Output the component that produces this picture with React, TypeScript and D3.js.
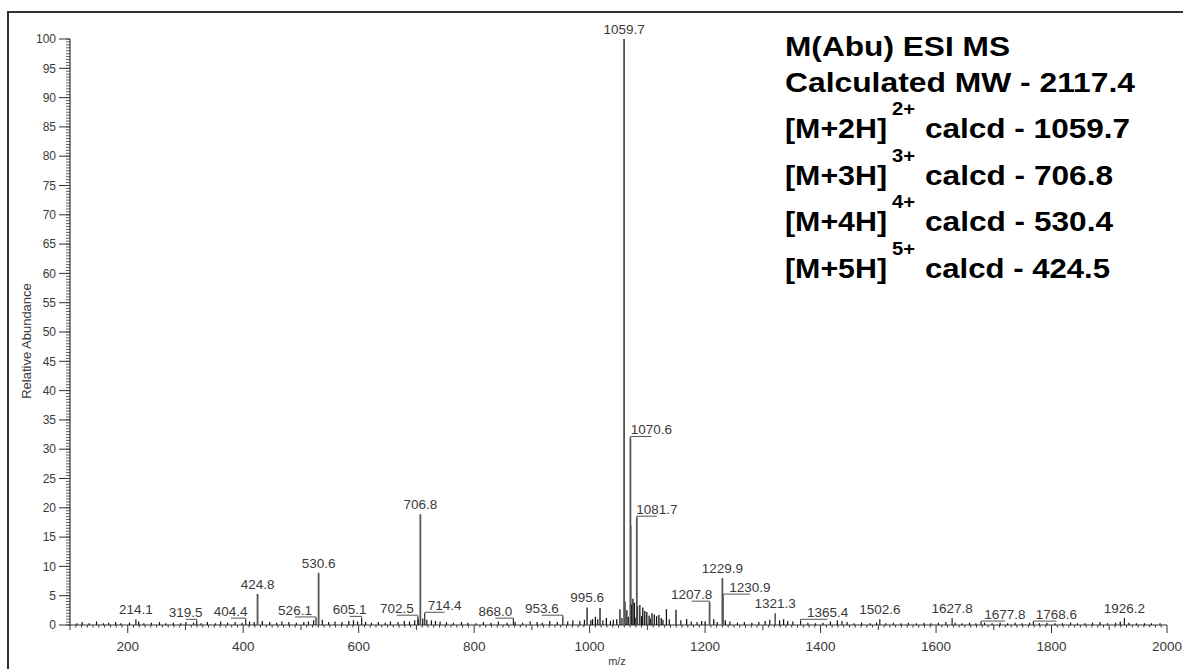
import React from "react";
import * as d3 from "d3";

// Labelled centroid peaks: m/z and relative abundance (%)
const labeledMz = [
  214.1, 319.5, 404.4, 424.8, 526.1, 530.6, 605.1, 702.5, 706.8, 714.4, 868.0,
  953.6, 995.6, 1059.7, 1070.6, 1081.7, 1207.8, 1229.9, 1230.9, 1321.3, 1365.4,
  1502.6, 1627.8, 1677.8, 1768.6, 1926.2,
];
const labeledAbundance = [
  1.0, 0.8, 1.0, 5.3, 1.2, 8.9, 1.3, 1.5, 18.9, 2.0, 1.0,
  1.5, 3.0, 100, 32.0, 18.4, 3.9, 8.0, 5.1, 2.0, 0.8,
  1.0, 1.2, 0.5, 0.5, 1.2,
];
// Horizontal shift of each label from its peak (0 = centred, no leader)
const labelShift = [
  0, -11, -15, 0, -21, 0, -12, -21, 0, 20, -18,
  -21, 0, 0, 21, 20, -18, 0, 27, 0, 27,
  0, 0, 24, 23, 0,
];

// Unlabelled peaks near the base peak cluster
const clusterPeaks: [number, number][] = [
  [1005, 1.0], [1010, 1.4], [1018, 2.9], [1029, 1.2], [1047, 1.0], [1052.5, 2.7],
  [1061.2, 4.0], [1064.5, 2.5], [1071.1, 17.0], [1072.5, 3.5], [1075.0, 4.5],
  [1077.5, 3.8], [1083.0, 3.2], [1087.0, 3.4], [1092.0, 3.0], [1095.5, 2.4],
  [1099.0, 2.2], [1103.0, 1.6], [1108.0, 2.0], [1112.0, 1.8], [1116.0, 1.5],
  [1120.0, 1.7], [1124.0, 1.2], [1133.0, 2.7], [1149.6, 2.6], [1168.0, 1.0],
  [1200.0, 0.6], [1215.0, 1.0], [1235.0, 0.8],
];

// Low-level baseline signal
const baselinePeaks: [number, number][] = [
  [112, 0.3], [121, 0.5], [133, 0.3], [146, 0.6], [158, 0.3], [167, 0.4], [179, 0.5],
  [188, 0.3], [203, 0.4], [219, 0.6], [228, 0.3], [241, 0.4], [255, 0.5], [266, 0.3],
  [279, 0.4], [292, 0.3], [301, 0.5], [314, 0.4], [327, 0.3], [338, 0.5], [352, 0.3],
  [361, 0.6], [373, 0.4], [386, 0.5], [398, 0.4], [411, 0.6], [419, 0.5], [433, 0.7],
  [446, 0.5], [458, 0.4], [467, 0.6], [479, 0.5], [492, 0.4], [505, 0.5], [513, 0.6],
  [522, 0.8], [537, 0.9], [548, 0.5], [559, 0.6], [571, 0.5], [583, 0.7], [591, 0.8],
  [598, 0.6], [612, 0.5], [622, 0.4], [634, 0.5], [646, 0.4], [655, 0.6], [668, 0.5],
  [679, 0.7], [688, 0.6], [697, 0.8], [703, 1.0], [711, 1.1], [718, 0.9], [726, 0.8],
  [733, 0.7], [741, 0.6], [752, 0.5], [764, 0.4], [778, 0.5], [789, 0.4], [803, 0.3],
  [816, 0.5], [829, 0.4], [842, 0.6], [857, 0.4], [871, 0.5], [884, 0.4], [897, 0.6],
  [909, 0.5], [918, 0.4], [931, 0.7], [944, 0.5], [962, 0.6], [971, 0.8], [983, 0.7],
  [991, 0.9], [1002, 0.8], [1014, 1.0], [1023, 0.8], [1036, 0.7], [1041, 0.9],
  [1056, 1.2], [1067, 1.4], [1080, 1.3], [1090, 1.5], [1105, 1.1], [1127, 0.9],
  [1138, 1.0], [1158, 0.8], [1176, 0.6], [1186, 0.5], [1194, 0.7], [1221, 0.5],
  [1243, 0.6], [1256, 0.4], [1268, 0.5], [1281, 0.4], [1293, 0.5], [1304, 0.7],
  [1312, 0.9], [1329, 0.8], [1336, 1.0], [1343, 0.7], [1352, 0.6], [1378, 0.4],
  [1391, 0.3], [1404, 0.4], [1417, 0.6], [1429, 0.8], [1437, 0.7], [1446, 0.5],
  [1458, 0.3], [1471, 0.4], [1486, 0.3], [1497, 0.4], [1513, 0.3], [1526, 0.4],
  [1539, 0.3], [1552, 0.4], [1566, 0.3], [1579, 0.4], [1591, 0.3], [1604, 0.4],
  [1617, 0.5], [1633, 0.4], [1645, 0.3], [1658, 0.4], [1669, 0.3], [1684, 0.4],
  [1697, 0.3], [1711, 0.4], [1724, 0.3], [1737, 0.4], [1749, 0.3], [1762, 0.4],
  [1779, 0.3], [1792, 0.4], [1806, 0.3], [1819, 0.3], [1833, 0.4], [1845, 0.3],
  [1858, 0.3], [1871, 0.4], [1884, 0.5], [1897, 0.3], [1911, 0.4], [1919, 0.6],
  [1934, 0.4], [1947, 0.3], [1961, 0.3], [1973, 0.3], [1988, 0.3],
];

const xTickValues = [200, 400, 600, 800, 1000, 1200, 1400, 1600, 1800, 2000];
const yTickValues = [0, 5, 10, 15, 20, 25, 30, 35, 40, 45, 50, 55, 60, 65, 70, 75, 80, 85, 90, 95, 100];

const titleLines = ["M(Abu) ESI MS", "Calculated MW - 2117.4"];
const ionCharges = ["2+", "3+", "4+", "5+"];
const ionFormulas = ["[M+2H]", "[M+3H]", "[M+4H]", "[M+5H]"];
const ionCalcd = ["calcd - 1059.7", "calcd - 706.8", "calcd - 530.4", "calcd - 424.5"];

const W = 1183;
const H = 669;
const FONT = "'Liberation Sans', Arial, sans-serif";
const AXIS = "#333";
const LABEL = "#3a3a3a";

export default function App() {
  const x = d3.scaleLinear().domain([100, 2000]).range([70, 1167]);
  const y = d3.scaleLinear().domain([0, 100]).range([625, 39]);
  const fmt = d3.format(".1f");

  const minorX = d3.range(100, 2001, 10);
  const minorY = d3.range(0, 100.01, 0.5);

  const titleLengths = [225, 350];
  const calcdLengths = [205, 188, 188, 185];

  return (
    <svg
      width={W}
      height={H}
      style={{ position: "absolute", left: 0, top: 0, display: "block", background: "#fff" }}
      fontFamily={FONT}
    >
      {/* frame */}
      <rect x={8} y={12} width={1200} height={700} fill="none" stroke="#333" strokeWidth={2} />

      {/* y axis */}
      <line x1={x(100)} x2={x(100)} y1={y(0)} y2={y(100)} stroke={AXIS} strokeWidth={1.2} />
      {minorY.map((v) => (
        <line key={"my" + v} x1={x(100) - 4} x2={x(100)} y1={y(v)} y2={y(v)} stroke={AXIS} strokeWidth={0.8} />
      ))}
      {yTickValues.map((v) => (
        <g key={"yt" + v}>
          <line x1={x(100) - 11} x2={x(100)} y1={y(v)} y2={y(v)} stroke={AXIS} strokeWidth={1} />
          <text x={56} y={y(v)} dy="0.35em" textAnchor="end" fontSize={12} fill={LABEL}>
            {v}
          </text>
        </g>
      ))}
      <text
        transform={`translate(31,${y(50) + 9}) rotate(-90)`}
        textAnchor="middle"
        fontSize={13}
        fill={LABEL}
      >
        Relative Abundance
      </text>

      {/* x axis */}
      <line x1={x(100)} x2={x(2000)} y1={y(0)} y2={y(0)} stroke={AXIS} strokeWidth={1.2} />
      {minorX.map((v) => {
        const len = v % 200 === 0 ? 8 : v % 100 === 0 ? 5 : 2.5;
        return (
          <line key={"mx" + v} x1={x(v)} x2={x(v)} y1={y(0)} y2={y(0) + len} stroke={AXIS} strokeWidth={1} />
        );
      })}
      {xTickValues.map((v) => (
        <text key={"xt" + v} x={x(v)} y={651} textAnchor="middle" fontSize={13.5} fill={LABEL}>
          {v}
        </text>
      ))}
      <text x={617} y={665} textAnchor="middle" fontSize={11} fill={LABEL}>
        m/z
      </text>

      {/* baseline signal */}
      {baselinePeaks.map(([m, a]) => (
        <line key={"b" + m} x1={x(m)} x2={x(m)} y1={y(0)} y2={y(a)} stroke="#111" strokeWidth={1.2} />
      ))}
      {clusterPeaks.map(([m, a]) => (
        <line key={"c" + m} x1={x(m)} x2={x(m)} y1={y(0)} y2={y(a)} stroke="#111" strokeWidth={1.3} />
      ))}

      {/* labelled peaks */}
      {labeledMz.map((m, i) => {
        const px = x(m);
        const py = y(labeledAbundance[i]);
        const shift = labelShift[i];
        const lx = px + shift;
        const big = labeledAbundance[i] > 2.5;
        return (
          <g key={"p" + m}>
            <line
              x1={px}
              x2={px}
              y1={y(0)}
              y2={py}
              stroke={big ? "#555" : "#222"}
              strokeWidth={big ? 1.8 : 1.2}
            />
            {shift !== 0 && (
              <polyline
                points={`${px},${py} ${px},${py - 1} ${lx},${py - 1}`}
                fill="none"
                stroke="#555"
                strokeWidth={1}
              />
            )}
            <text x={lx} y={py - (shift !== 0 ? 3 : 5)} textAnchor="middle" fontSize={13.5} fill={LABEL}>
              {fmt(m)}
            </text>
          </g>
        );
      })}

      {/* annotation block */}
      <g fontWeight="bold" fill="#000" fontSize={28}>
        {titleLines.map((t, i) => (
          <text key={t} x={785} y={56 + i * 36} textLength={titleLengths[i]} lengthAdjust="spacingAndGlyphs">
            {t}
          </text>
        ))}
        {ionFormulas.map((f, i) => {
          const base = 138 + i * 46.7;
          return (
            <g key={f}>
              <text x={785} y={base} textLength={102} lengthAdjust="spacingAndGlyphs">
                {f}
              </text>
              <text x={892} y={base - 23} fontSize={18} textLength={23} lengthAdjust="spacingAndGlyphs">
                {ionCharges[i]}
              </text>
              <text x={925} y={base} textLength={calcdLengths[i]} lengthAdjust="spacingAndGlyphs">
                {ionCalcd[i]}
              </text>
            </g>
          );
        })}
      </g>
    </svg>
  );
}
